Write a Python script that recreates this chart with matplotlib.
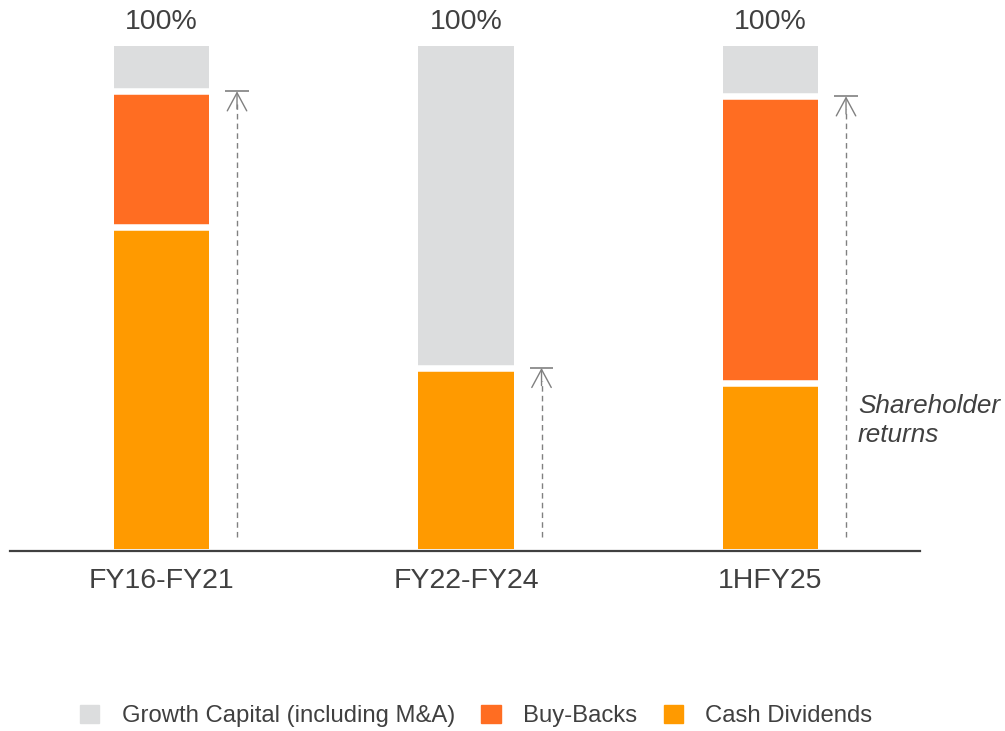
import matplotlib
matplotlib.use("Agg")
import matplotlib.pyplot as plt
import numpy as np
from matplotlib.patches import Patch

plt.rcParams['font.family'] = ['Liberation Sans', 'DejaVu Sans']

# Data (% of capital allocation)
categories = ["FY16-FY21", "FY22-FY24", "1HFY25"]
cash_dividends = [64, 36, 33]
buy_backs = [27, 0, 57]
growth_capital = [9, 64, 10]
top_labels = ["100%", "100%", "100%"]

# Colours
C_GROWTH = "#DCDDDE"
C_BUYBACK = "#FF6D22"
C_CASH = "#FF9A00"
C_TEXT = "#404040"
C_ARROW = "#808080"

fig = plt.figure(figsize=(10.05, 7.31), dpi=100)
ax = fig.add_axes([0.00995, 0.2462, 0.9055, 0.6908])

x = np.arange(len(categories))
width = 0.312
cash = np.array(cash_dividends)
buy = np.array(buy_backs)
grow = np.array(growth_capital)

ax.bar(x, cash, width, color=C_CASH, zorder=2)
ax.bar(x, buy, width, bottom=cash, color=C_BUYBACK, zorder=2)
ax.bar(x, grow, width, bottom=cash + buy, color=C_GROWTH, zorder=2)

# white separators between stacked segments
for xi, c, b in zip(x, cash, buy):
    bounds = [c] if b == 0 else [c, c + b]
    for yb in bounds:
        ax.hlines(yb, xi - width / 2 - 0.01, xi + width / 2 + 0.01,
                  color="white", lw=4.7, zorder=3)

# 100% labels
for xi, lab in zip(x, top_labels):
    ax.text(xi, 104.8, lab, ha="center", va="center", fontsize=20.5,
            color=C_TEXT, clip_on=False)

# shareholder return arrows
off = 0.248
for xi, c, b in zip(x, cash, buy):
    top = c + b
    xa = xi + off
    ax.vlines(xa, 2.4, top - 2.5, colors=C_ARROW, linestyles=(0, (4, 3)), lw=1)
    ax.annotate("", xy=(xa, top), xytext=(xa, top - 3.5),
                arrowprops=dict(arrowstyle="->,head_length=0.65,head_width=0.35",
                                color=C_ARROW, lw=1, mutation_scale=20,
                                shrinkA=0, shrinkB=0))
    ax.hlines(top, xa - 0.038, xa + 0.038, colors=C_ARROW, lw=1.2)

ax.text(2.287, 25.6, "Shareholder\nreturns", ha="left", va="center",
        fontsize=18.8, style="italic", color=C_TEXT, linespacing=1.25,
        clip_on=False)

ax.set_xlim(-0.4975, 2.491)
ax.set_ylim(-0.4, 100)
for s in ["top", "right", "left"]:
    ax.spines[s].set_visible(False)
ax.spines["bottom"].set_color(C_TEXT)
ax.spines["bottom"].set_linewidth(1.6)
ax.set_yticks([])
ax.set_xticks(x)
ax.set_xticklabels(categories, fontsize=20.5, color=C_TEXT)
ax.tick_params(axis="x", length=0, pad=12)

handles = [Patch(color=C_GROWTH, label="Growth Capital (including M&A)"),
           Patch(color=C_BUYBACK, label="Buy-Backs"),
           Patch(color=C_CASH, label="Cash Dividends")]
leg = fig.legend(handles=handles, loc="center", bbox_to_anchor=(0.474, 0.0205),
                 ncol=3, frameon=False, fontsize=17.2, handlelength=0.8,
                 handleheight=0.8, handletextpad=0.95, columnspacing=1.1)
for t in leg.get_texts():
    t.set_color(C_TEXT)

fig.savefig("out.png", dpi=100)
